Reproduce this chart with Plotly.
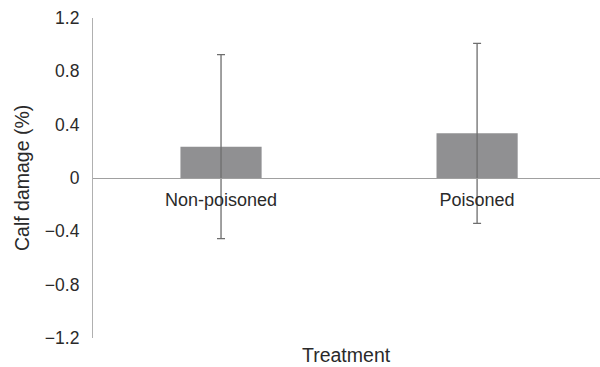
import plotly.graph_objects as go

# Calf damage by treatment, mean with error bars
treatments = ["Non-poisoned", "Poisoned"]
damage_mean = [0.235, 0.335]
damage_err = [0.69, 0.675]

y_ticks = [-1.2, -0.8, -0.4, 0, 0.4, 0.8, 1.2]
y_tick_text = ["\u22121.2", "\u22120.8", "\u22120.4", "0", "0.4", "0.8", "1.2"]

font_family = "Liberation Sans, Arial, Helvetica, sans-serif"
text_color = "#2a2a2a"

fig = go.Figure(
    go.Bar(
        x=treatments,
        y=damage_mean,
        width=0.317,
        marker=dict(color="#909092", line=dict(width=0)),
        error_y=dict(
            type="data",
            array=damage_err,
            symmetric=True,
            color="#6e6e6e",
            thickness=1.3,
            width=4,
        ),
    )
)

fig.update_layout(
    width=600,
    height=367,
    margin=dict(l=93, r=0, t=18, b=29),
    paper_bgcolor="white",
    plot_bgcolor="white",
    showlegend=False,
    font=dict(family=font_family, color=text_color, size=17),
    xaxis=dict(
        type="category",
        range=[-0.5, 1.48],
        anchor="free",
        position=0.5,
        showline=True,
        linecolor="#a0a0a0",
        linewidth=1.2,
        showgrid=False,
        zeroline=False,
        ticks="",
        ticklabelstandoff=5,
        tickfont=dict(size=18, color=text_color),
    ),
    yaxis=dict(
        range=[-1.2, 1.2],
        tickvals=y_ticks,
        ticktext=y_tick_text,
        showline=True,
        linecolor="#b0b0b0",
        linewidth=1.2,
        showgrid=False,
        zeroline=False,
        ticks="",
        ticklabelstandoff=9,
        tickfont=dict(size=17.5, color=text_color),
    ),
    annotations=[
        dict(
            text="Treatment",
            xref="paper",
            yref="paper",
            x=0.5,
            y=-0.053,
            xanchor="center",
            yanchor="middle",
            showarrow=False,
            font=dict(size=19.5, color=text_color),
        ),
        dict(
            text="Calf damage (%)",
            xref="paper",
            yref="paper",
            x=-0.14,
            y=0.5,
            xanchor="center",
            yanchor="middle",
            textangle=-90,
            showarrow=False,
            font=dict(size=19.5, color=text_color),
        ),
    ],
)

fig.write_html("out.html")
